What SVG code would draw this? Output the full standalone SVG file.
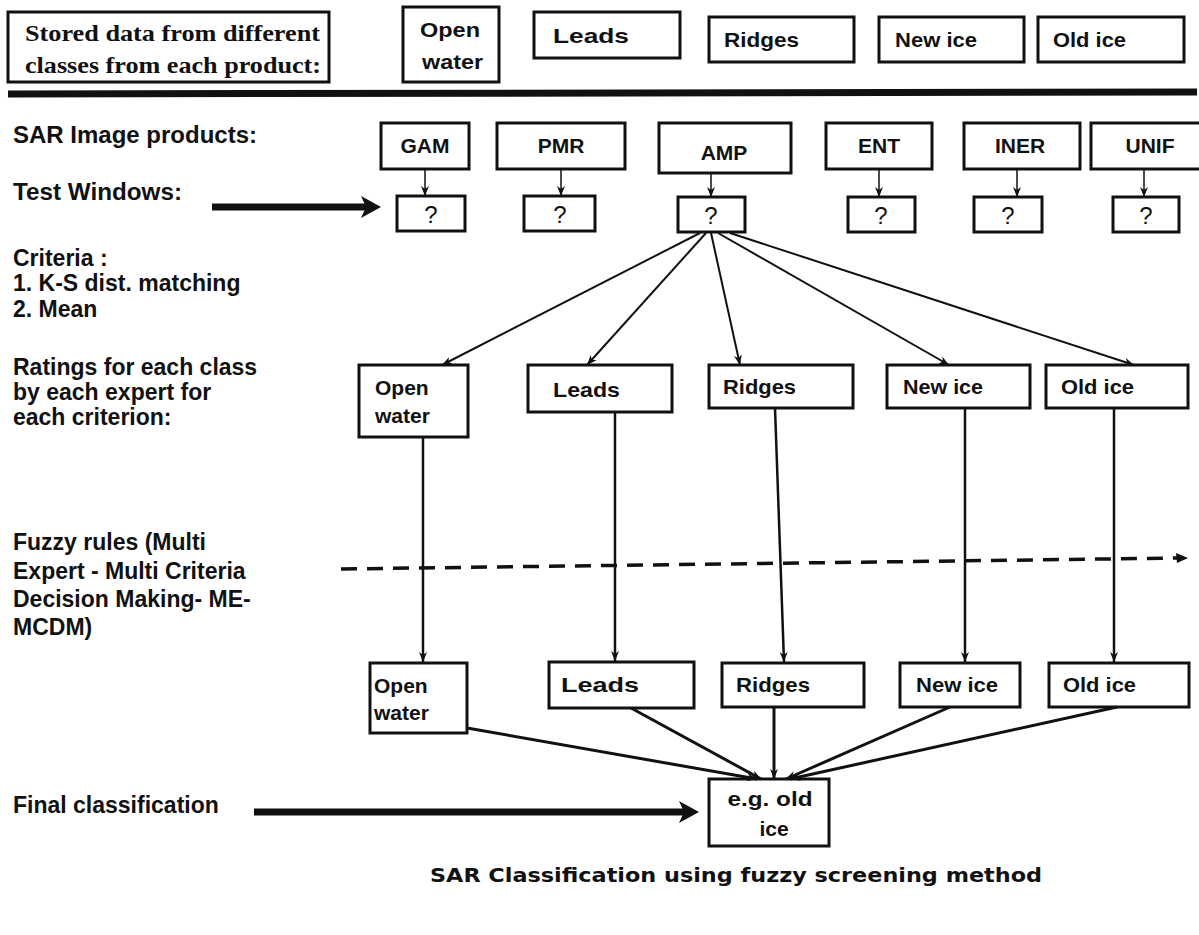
<svg xmlns="http://www.w3.org/2000/svg" width="1199" height="935" viewBox="0 0 1199 935">
<style>
.box{fill:#fff;stroke:#111;stroke-width:3}
.lbl{font-family:"Liberation Sans",Arial,sans-serif;font-weight:bold;font-size:23px;fill:#111}
.nt{font-family:"Liberation Sans",Arial,sans-serif;font-weight:bold;font-size:21px;fill:#111}
.q{font-family:"Liberation Sans",Arial,sans-serif;font-size:24px;fill:#111;text-anchor:middle}
.ser{font-family:"Liberation Serif","Times New Roman",serif;font-weight:bold;font-size:24px;fill:#111}
.thin{stroke:#111;stroke-width:1.5;fill:none}
.mid{stroke:#111;stroke-width:2;fill:none}
.vert{stroke:#111;stroke-width:2.5;fill:none}
.heavy{stroke:#111;stroke-width:3;fill:none}
</style>
<defs>
<marker id="arr" viewBox="0 0 10 10" refX="10" refY="5" markerWidth="10" markerHeight="10" markerUnits="userSpaceOnUse" orient="auto">
<path d="M0,1 L10,5 L0,9 L3,5 Z" fill="#111"/>
</marker>
</defs>
<rect width="1199" height="935" fill="#fff"/>

<g id="stored-header">
<rect class="box" x="8" y="12" width="321" height="70"/>
<text class="ser" x="25" y="41" textLength="295" lengthAdjust="spacingAndGlyphs">Stored data from different</text>
<text class="ser" x="25" y="73" textLength="296" lengthAdjust="spacingAndGlyphs">classes from each product:</text>
</g>
<g id="top-open-water">
<rect class="box" x="403" y="7" width="96" height="75"/>
<text class="nt" x="420" y="37" textLength="60" lengthAdjust="spacingAndGlyphs">Open</text>
<text class="nt" x="422" y="69" textLength="61" lengthAdjust="spacingAndGlyphs">water</text>
</g>
<g id="top-leads">
<rect class="box" x="534" y="12" width="146" height="46"/>
<text class="nt" x="553" y="43" textLength="76" lengthAdjust="spacingAndGlyphs">Leads</text>
</g>
<g id="top-ridges">
<rect class="box" x="709" y="17" width="145" height="45"/>
<text class="nt" x="724" y="47" textLength="75" lengthAdjust="spacingAndGlyphs">Ridges</text>
</g>
<g id="top-new-ice">
<rect class="box" x="879" y="17" width="145" height="45"/>
<text class="nt" x="895" y="47" textLength="82" lengthAdjust="spacingAndGlyphs">New ice</text>
</g>
<g id="top-old-ice">
<rect class="box" x="1038" y="17" width="146" height="45"/>
<text class="nt" x="1053" y="47" textLength="73" lengthAdjust="spacingAndGlyphs">Old ice</text>
</g>
<g id="separator">
<line x1="8" y1="94" x2="1197" y2="92" stroke="#111" stroke-width="7"/>
</g>

<g id="labels">
<text class="lbl" x="13" y="143" textLength="244" lengthAdjust="spacingAndGlyphs">SAR Image products:</text>
<text class="lbl" x="13" y="200" textLength="169" lengthAdjust="spacingAndGlyphs">Test Windows:</text>
<text class="lbl" x="13" y="266">Criteria :</text>
<text class="lbl" x="13" y="291">1. K-S dist. matching</text>
<text class="lbl" x="13" y="317">2. Mean</text>
<text class="lbl" x="13" y="375">Ratings for each class</text>
<text class="lbl" x="13" y="400">by each expert for</text>
<text class="lbl" x="13" y="425">each criterion:</text>
<text class="lbl" x="13" y="550">Fuzzy rules (Multi</text>
<text class="lbl" x="13" y="579">Expert - Multi Criteria</text>
<text class="lbl" x="13" y="607">Decision Making- ME-</text>
<text class="lbl" x="13" y="635">MCDM)</text>
<text class="lbl" x="13" y="813">Final classification</text>
</g>

<g id="prod-gam"><rect class="box" x="381" y="123" width="88" height="46"/><text class="nt" x="425" y="153" text-anchor="middle" font-size="23">GAM</text></g>
<g id="prod-pmr"><rect class="box" x="497" y="123" width="128" height="46"/><text class="nt" x="561" y="153" text-anchor="middle" font-size="23">PMR</text></g>
<g id="prod-amp"><rect class="box" x="659" y="123" width="132" height="50"/><text class="nt" x="724" y="160" text-anchor="middle" font-size="23">AMP</text></g>
<g id="prod-ent"><rect class="box" x="826" y="123" width="106" height="46"/><text class="nt" x="879" y="153" text-anchor="middle" font-size="23">ENT</text></g>
<g id="prod-iner"><rect class="box" x="964" y="123" width="116" height="46"/><text class="nt" x="1020" y="153" text-anchor="middle" font-size="23">INER</text></g>
<g id="prod-unif"><rect class="box" x="1091" y="123" width="110" height="46"/><text class="nt" x="1150" y="153" text-anchor="middle" font-size="23">UNIF</text></g>

<g id="win-gam"><rect class="box" x="397" y="196" width="68" height="35"/><text class="q" x="431" y="223">?</text></g>
<g id="win-pmr"><rect class="box" x="524" y="196" width="71" height="35"/><text class="q" x="560" y="223">?</text></g>
<g id="win-amp"><rect class="box" x="678" y="197" width="67" height="35"/><text class="q" x="711" y="224">?</text></g>
<g id="win-ent"><rect class="box" x="848" y="197" width="67" height="35"/><text class="q" x="881" y="224">?</text></g>
<g id="win-iner"><rect class="box" x="974" y="197" width="68" height="35"/><text class="q" x="1008" y="224">?</text></g>
<g id="win-unif"><rect class="box" x="1113" y="197" width="66" height="35"/><text class="q" x="1146" y="224">?</text></g>

<g id="rate-open-water"><rect class="box" x="359" y="365" width="109" height="72"/><text class="nt" x="375" y="395">Open</text><text class="nt" x="375" y="423">water</text></g>
<g id="rate-leads"><rect class="box" x="528" y="365" width="144" height="47"/><text class="nt" x="553" y="397" textLength="67" lengthAdjust="spacingAndGlyphs">Leads</text></g>
<g id="rate-ridges"><rect class="box" x="709" y="365" width="144" height="43"/><text class="nt" x="723" y="394" textLength="73" lengthAdjust="spacingAndGlyphs">Ridges</text></g>
<g id="rate-new-ice"><rect class="box" x="887" y="365" width="143" height="43"/><text class="nt" x="903" y="394" textLength="80" lengthAdjust="spacingAndGlyphs">New ice</text></g>
<g id="rate-old-ice"><rect class="box" x="1046" y="365" width="142" height="43"/><text class="nt" x="1061" y="394" textLength="73" lengthAdjust="spacingAndGlyphs">Old ice</text></g>

<g id="out-open-water"><rect class="box" x="370" y="663" width="97" height="70"/><text class="nt" x="374" y="693">Open</text><text class="nt" x="374" y="720">water</text></g>
<g id="out-leads"><rect class="box" x="549" y="662" width="145" height="46"/><text class="nt" x="561" y="692" textLength="78" lengthAdjust="spacingAndGlyphs">Leads</text></g>
<g id="out-ridges"><rect class="box" x="722" y="663" width="142" height="44"/><text class="nt" x="736" y="692" textLength="74" lengthAdjust="spacingAndGlyphs">Ridges</text></g>
<g id="out-new-ice"><rect class="box" x="900" y="663" width="120" height="44"/><text class="nt" x="916" y="692" textLength="82" lengthAdjust="spacingAndGlyphs">New ice</text></g>
<g id="out-old-ice"><rect class="box" x="1049" y="663" width="140" height="44"/><text class="nt" x="1063" y="692" textLength="73" lengthAdjust="spacingAndGlyphs">Old ice</text></g>

<g id="final"><rect class="box" x="709" y="779" width="120" height="67"/><text class="nt" x="770" y="806" text-anchor="middle" textLength="85" lengthAdjust="spacingAndGlyphs">e.g. old</text><text class="nt" x="774" y="836" text-anchor="middle">ice</text></g>

<g id="connectors">
<line class="thin" x1="425" y1="169" x2="425" y2="196" marker-end="url(#arr)"/>
<line class="thin" x1="561" y1="169" x2="561" y2="196" marker-end="url(#arr)"/>
<line class="thin" x1="711" y1="173" x2="711" y2="197" marker-end="url(#arr)"/>
<line class="thin" x1="879" y1="169" x2="879" y2="197" marker-end="url(#arr)"/>
<line class="thin" x1="1017" y1="169" x2="1017" y2="197" marker-end="url(#arr)"/>
<line class="thin" x1="1144" y1="169" x2="1144" y2="197" marker-end="url(#arr)"/>

<line class="mid" x1="700" y1="233" x2="442" y2="365" marker-end="url(#arr)"/>
<line class="mid" x1="706" y1="233" x2="587" y2="365" marker-end="url(#arr)"/>
<line class="mid" x1="711" y1="233" x2="740" y2="365" marker-end="url(#arr)"/>
<line class="mid" x1="718" y1="233" x2="949" y2="365" marker-end="url(#arr)"/>
<line class="mid" x1="730" y1="233" x2="1134" y2="365" marker-end="url(#arr)"/>

<line class="vert" x1="423" y1="437" x2="423" y2="662" marker-end="url(#arr)"/>
<line class="vert" x1="615" y1="412" x2="615" y2="661" marker-end="url(#arr)"/>
<line class="vert" x1="775" y1="408" x2="784" y2="662" marker-end="url(#arr)"/>
<line class="vert" x1="965" y1="408" x2="965" y2="662" marker-end="url(#arr)"/>
<line class="vert" x1="1114" y1="408" x2="1114" y2="662" marker-end="url(#arr)"/>

<line x1="341" y1="569" x2="1180" y2="558" stroke="#111" stroke-width="3.5" stroke-dasharray="16 10"/>
<path d="M1188,558 L1176,553 L1177,563 Z" fill="#111"/>

<line class="heavy" x1="467" y1="728" x2="757" y2="779" marker-end="url(#arr)"/>
<line class="heavy" x1="631" y1="708" x2="761" y2="779" marker-end="url(#arr)"/>
<line class="heavy" x1="774" y1="707" x2="774" y2="779" marker-end="url(#arr)"/>
<line class="heavy" x1="950" y1="707" x2="786" y2="779" marker-end="url(#arr)"/>
<line class="heavy" x1="1117" y1="707" x2="790" y2="779" marker-end="url(#arr)"/>

<line x1="212" y1="207" x2="368" y2="207" stroke="#111" stroke-width="7"/>
<path d="M381,207 L361,196 L366,207 L361,218 Z" fill="#111"/>
<line x1="254" y1="812" x2="686" y2="812" stroke="#111" stroke-width="7"/>
<path d="M699,812 L679,801 L684,812 L679,823 Z" fill="#111"/>
</g>

<g id="title">
<text x="430" y="882" font-family="'DejaVu Sans',Verdana,sans-serif" font-weight="bold" font-size="20" fill="#111" textLength="612" lengthAdjust="spacingAndGlyphs">SAR Classification using fuzzy screening method</text>
</g>
</svg>
